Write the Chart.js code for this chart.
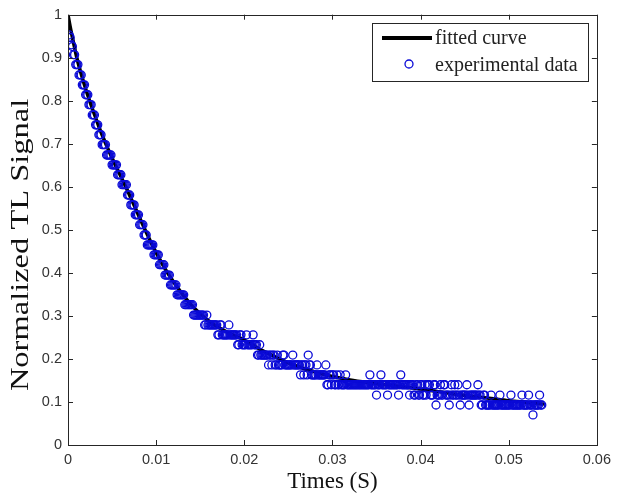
<!DOCTYPE html>
<html><head><meta charset="utf-8">
<script src="https://cdn.jsdelivr.net/npm/chart.js@4.4.1/dist/chart.umd.min.js"></script>
<style>html,body{margin:0;padding:0;background:#fff;}#wrap{width:617px;height:497px;}</style>
</head><body><div id="wrap"><canvas id="c" width="617" height="497"></canvas></div>
<script>
// sample times in milliseconds
const timesMs = [
0.125,0.25,0.375,0.5,0.625,0.75,0.875,1,
1.125,1.25,1.375,1.5,1.625,1.75,1.875,2,
2.125,2.25,2.375,2.5,2.625,2.75,2.875,3,
3.125,3.25,3.375,3.5,3.625,3.75,3.875,4,
4.125,4.25,4.375,4.5,4.625,4.75,4.875,5,
5.125,5.25,5.375,5.5,5.625,5.75,5.875,6,
6.125,6.25,6.375,6.5,6.625,6.75,6.875,7,
7.125,7.25,7.375,7.5,7.625,7.75,7.875,8,
8.125,8.25,8.375,8.5,8.625,8.75,8.875,9,
9.125,9.25,9.375,9.5,9.625,9.75,9.875,10,
10.125,10.25,10.375,10.5,10.625,10.75,10.875,11,
11.125,11.25,11.375,11.5,11.625,11.75,11.875,12,
12.125,12.25,12.375,12.5,12.625,12.75,12.875,13,
13.125,13.25,13.375,13.5,13.625,13.75,13.875,14,
14.125,14.25,14.375,14.5,14.625,14.75,14.875,15,
15.125,15.25,15.375,15.5,15.625,15.75,15.875,16,
16.125,16.25,16.375,16.5,16.625,16.75,16.875,17,
17.125,17.25,17.375,17.5,17.625,17.75,17.875,18,
18.125,18.25,18.375,18.5,18.625,18.75,18.875,19,
19.125,19.25,19.375,19.5,19.625,19.75,19.875,20,
20.125,20.25,20.375,20.5,20.625,20.75,20.875,21,
21.125,21.25,21.375,21.5,21.625,21.75,21.875,22,
22.125,22.25,22.375,22.5,22.625,22.75,22.875,23,
23.125,23.25,23.375,23.5,23.625,23.75,23.875,24,
24.125,24.25,24.375,24.5,24.625,24.75,24.875,25,
25.125,25.25,25.375,25.5,25.625,25.75,25.875,26,
26.125,26.25,26.375,26.5,26.625,26.75,26.875,27,
27.125,27.25,27.375,27.5,27.625,27.75,27.875,28,
28.125,28.25,28.375,28.5,28.625,28.75,28.875,29,
29.125,29.25,29.375,29.5,29.625,29.75,29.875,30,
30.125,30.25,30.375,30.5,30.625,30.75,30.875,31,
31.125,31.25,31.375,31.5,31.625,31.75,31.875,32,
32.125,32.25,32.375,32.5,32.625,32.75,32.875,33,
33.125,33.25,33.375,33.5,33.625,33.75,33.875,34,
34.125,34.25,34.375,34.5,34.625,34.75,34.875,35,
35.125,35.25,35.375,35.5,35.625,35.75,35.875,36,
36.125,36.25,36.375,36.5,36.625,36.75,36.875,37,
37.125,37.25,37.375,37.5,37.625,37.75,37.875,38,
38.125,38.25,38.375,38.5,38.625,38.75,38.875,39,
39.125,39.25,39.375,39.5,39.625,39.75,39.875,40,
40.125,40.25,40.375,40.5,40.625,40.75,40.875,41,
41.125,41.25,41.375,41.5,41.625,41.75,41.875,42,
42.125,42.25,42.375,42.5,42.625,42.75,42.875,43,
43.125,43.25,43.375,43.5,43.625,43.75,43.875,44,
44.125,44.25,44.375,44.5,44.625,44.75,44.875,45,
45.125,45.25,45.375,45.5,45.625,45.75,45.875,46,
46.125,46.25,46.375,46.5,46.625,46.75,46.875,47,
47.125,47.25,47.375,47.5,47.625,47.75,47.875,48,
48.125,48.25,48.375,48.5,48.625,48.75,48.875,49,
49.125,49.25,49.375,49.5,49.625,49.75,49.875,50,
50.125,50.25,50.375,50.5,50.625,50.75,50.875,51,
51.125,51.25,51.375,51.5,51.625,51.75,51.875,52,
52.125,52.25,52.375,52.5,52.625,52.75,52.875,53,
53.125,53.25,53.375,53.5,53.625,53.75];

const experimentalData = [
.953,.947,.930,.926,.907,.907,.884,.884,
.884,.860,.860,.860,.837,.837,.837,.814,
.814,.814,.791,.791,.791,.767,.767,.767,
.744,.744,.744,.721,.721,.721,.698,.698,
.698,.698,.674,.674,.674,.674,.674,.651,
.651,.651,.651,.651,.628,.628,.628,.628,
.605,.605,.605,.605,.605,.581,.581,.581,
.558,.558,.558,.558,.535,.535,.535,.535,
.512,.512,.512,.512,.488,.488,.488,.465,
.465,.465,.465,.465,.465,.442,.442,.442,
.442,.442,.419,.419,.419,.419,.419,.395,
.395,.395,.395,.395,.372,.372,.372,.372,
.372,.372,.349,.349,.349,.349,.349,.349,
.349,.326,.326,.326,.326,.326,.326,.326,
.326,.302,.302,.302,.302,.302,.302,.302,
.302,.302,.302,.279,.279,.302,.279,.279,
.279,.279,.279,.279,.279,.279,.279,.256,
.256,.279,.279,.256,.256,.256,.256,.256,
.256,.279,.256,.256,.256,.256,.256,.256,
.256,.233,.233,.256,.256,.233,.233,.233,
.233,.256,.233,.233,.233,.233,.233,.256,
.233,.233,.233,.209,.209,.233,.209,.209,
.209,.209,.209,.209,.209,.186,.209,.209,
.186,.209,.209,.186,.186,.209,.186,.186,
.186,.186,.209,.209,.186,.186,.186,.186,
.186,.186,.186,.209,.186,.186,.186,.186,
.186,.186,.163,.186,.186,.163,.186,.186,
.163,.209,.186,.186,.163,.163,.163,.163,
.163,.186,.163,.163,.163,.163,.163,.163,
.163,.186,.140,.140,.163,.163,.140,.163,
.163,.140,.140,.163,.140,.140,.163,.140,
.140,.140,.140,.163,.140,.140,.140,.140,
.140,.140,.140,.140,.140,.140,.140,.140,
.140,.140,.140,.140,.140,.140,.140,.140,
.140,.163,.140,.140,.140,.140,.140,.116,
.140,.140,.140,.163,.140,.140,.140,.140,
.140,.116,.140,.140,.140,.140,.140,.140,
.140,.140,.140,.116,.140,.163,.140,.140,
.140,.140,.140,.140,.140,.116,.140,.140,
.140,.116,.116,.140,.140,.116,.116,.140,
.140,.116,.116,.140,.116,.140,.140,.140,
.116,.116,.116,.140,.140,.093,.116,.116,
.116,.140,.116,.116,.140,.140,.116,.116,
.116,.093,.116,.140,.116,.116,.140,.116,
.116,.140,.116,.093,.116,.116,.116,.116,
.116,.140,.116,.093,.116,.116,.116,.116,
.116,.116,.116,.140,.116,.116,.093,.093,
.116,.116,.093,.093,.093,.093,.093,.116,
.093,.093,.093,.093,.093,.093,.093,.116,
.093,.093,.093,.093,.093,.093,.093,.093,
.093,.116,.093,.093,.093,.093,.093,.093,
.093,.093,.093,.116,.093,.093,.093,.093,
.093,.116,.093,.093,.093,.070,.093,.093,
.093,.093,.093,.116,.093,.093];

const fitTimesMs = [0,0.25,0.5,0.75,1,1.5,2,2.5,3,3.5,4,4.5,5,5.5,6,6.5,7,7.5,8,8.5,9,9.5,10,11,12,13,14,15,16,17,18,19,20,21,22,23,24,25,26,27,28,29,30,32,34,36,38,40,42,44,46,48,50,52,54];
const fittedCurve = [1.0,0.972,0.947,0.923,0.9,0.862,0.828,0.797,0.768,0.74,0.714,0.69,0.667,0.645,0.624,0.602,0.58,0.557,0.534,0.511,0.489,0.467,0.447,0.41,0.378,0.35,0.325,0.305,0.288,0.274,0.263,0.253,0.244,0.232,0.22,0.21,0.2,0.191,0.183,0.176,0.17,0.164,0.159,0.151,0.145,0.14,0.135,0.13,0.124,0.118,0.113,0.108,0.103,0.099,0.095];

const xTickLabels = ['0','0.01','0.02','0.03','0.04','0.05','0.06'];
const yTickLabels = ['0','0.1','0.2','0.3','0.4','0.5','0.6','0.7','0.8','0.9','1'];
const seriesNames = ['fitted curve','experimental data'];
const xTitle = 'Times (S)';
const yTitle = 'Normalized TL Signal';

const BLUE = 'rgb(10,10,215)';
const AXIS = '#262626';
const SERIF = '"Liberation Serif", "Times New Roman", serif';

const framePlugin = {
  id: 'frame',
  afterDatasetsDraw(chart) {
    const {ctx, chartArea: a, scales: {x, y}} = chart;
    ctx.save();
    ctx.strokeStyle = AXIS; ctx.lineWidth = 1;
    ctx.beginPath();
    x.ticks.forEach(t => { const p = Math.round(x.getPixelForValue(t.value)) + 0.5;
      ctx.moveTo(p, a.bottom); ctx.lineTo(p, a.bottom - 5);
      ctx.moveTo(p, a.top); ctx.lineTo(p, a.top + 5); });
    y.ticks.forEach(t => { const p = Math.round(y.getPixelForValue(t.value)) + 0.5;
      ctx.moveTo(a.left, p); ctx.lineTo(a.left + 5, p);
      ctx.moveTo(a.right, p); ctx.lineTo(a.right - 5, p); });
    ctx.stroke();
    ctx.strokeRect(Math.round(a.left) + 0.5, Math.round(a.top) + 0.5, Math.round(a.right - a.left), Math.round(a.bottom - a.top));
    ctx.restore();
  }
};

const yTitlePlugin = {
  id: 'yTitle',
  afterDraw(chart) {
    const {ctx, chartArea: a} = chart;
    ctx.save();
    ctx.translate(21, a.top + (a.bottom - a.top) * 0.535);
    ctx.rotate(-Math.PI / 2);
    ctx.scale(1.3, 1);
    ctx.font = '25px ' + SERIF;
    ctx.fillStyle = '#111'; ctx.textAlign = 'center'; ctx.textBaseline = 'middle';
    ctx.fillText(yTitle, 0, 0);
    ctx.restore();
  }
};

const legendPlugin = {
  id: 'boxLegend',
  afterDraw(chart) {
    const {ctx, chartArea: a} = chart;
    ctx.save();
    ctx.font = '20px ' + SERIF;
    const tw = Math.max(...seriesNames.map(s => ctx.measureText(s).width));
    const textOff = 63;
    const w = Math.round(textOff + tw + 10), h = 58;
    const left = Math.round(a.right - 9 - w), top = Math.round(a.top + 8);
    ctx.fillStyle = '#fff';
    ctx.fillRect(left, top, w, h);
    ctx.strokeStyle = AXIS; ctx.lineWidth = 1;
    ctx.strokeRect(left + 0.5, top + 0.5, w, h);
    ctx.strokeStyle = '#000'; ctx.lineWidth = 4;
    ctx.beginPath(); ctx.moveTo(left + 10, top + 15); ctx.lineTo(left + 60, top + 15); ctx.stroke();
    ctx.strokeStyle = BLUE; ctx.lineWidth = 1.3;
    ctx.beginPath(); ctx.arc(left + 37, top + 41, 4, 0, Math.PI * 2); ctx.stroke();
    ctx.fillStyle = '#222'; ctx.textBaseline = 'middle'; ctx.textAlign = 'left';
    ctx.fillText(seriesNames[0], left + textOff, top + 16);
    ctx.fillText(seriesNames[1], left + textOff, top + 43);
    ctx.restore();
  }
};

const tickFont = {family: '"Liberation Sans", Arial, sans-serif', size: 14.5};

new Chart(document.getElementById('c'), {
  type: 'scatter',
  data: {
    datasets: [
      {
        label: seriesNames[0],
        data: fitTimesMs.map((t, i) => ({x: t / 1000, y: fittedCurve[i]})),
        showLine: true, borderColor: '#000', borderWidth: 3.5,
        pointRadius: 0, cubicInterpolationMode: 'monotone', order: 2
      },
      {
        label: seriesNames[1],
        data: timesMs.map((t, i) => ({x: t / 1000, y: experimentalData[i]})),
        showLine: false, pointRadius: 4, pointBorderWidth: 1.3,
        pointBorderColor: BLUE, pointBackgroundColor: 'rgba(0,0,0,0)', order: 1
      }
    ]
  },
  options: {
    responsive: false, animation: false, devicePixelRatio: 1,
    layout: {padding: {top: 14, right: 16, bottom: 0, left: 0}},
    plugins: {legend: {display: false}, tooltip: {enabled: false}},
    scales: {
      x: {
        type: 'linear', min: 0, max: 0.06,
        grid: {display: false, drawTicks: false}, border: {display: false},
        ticks: {stepSize: 0.01, autoSkip: false, padding: 6, color: '#333', font: tickFont,
          callback: v => xTickLabels[Math.round(v / 0.01)]},
        title: {display: true, text: xTitle, color: '#111',
          font: {family: SERIF, size: 23, lineHeight: 1.2},
          padding: {top: 0, bottom: 1}},
        afterFit: s => { s.height = 52; }
      },
      y: {
        type: 'linear', min: 0, max: 1,
        grid: {display: false, drawTicks: false}, border: {display: false},
        ticks: {stepSize: 0.1, autoSkip: false, padding: 6, color: '#333', font: tickFont,
          callback: v => yTickLabels[Math.round(v / 0.1)]},
        title: {display: false, text: yTitle},
        afterFit: s => { s.width = 68; }
      }
    }
  },
  plugins: [framePlugin, legendPlugin, yTitlePlugin]
});
</script></body></html>
